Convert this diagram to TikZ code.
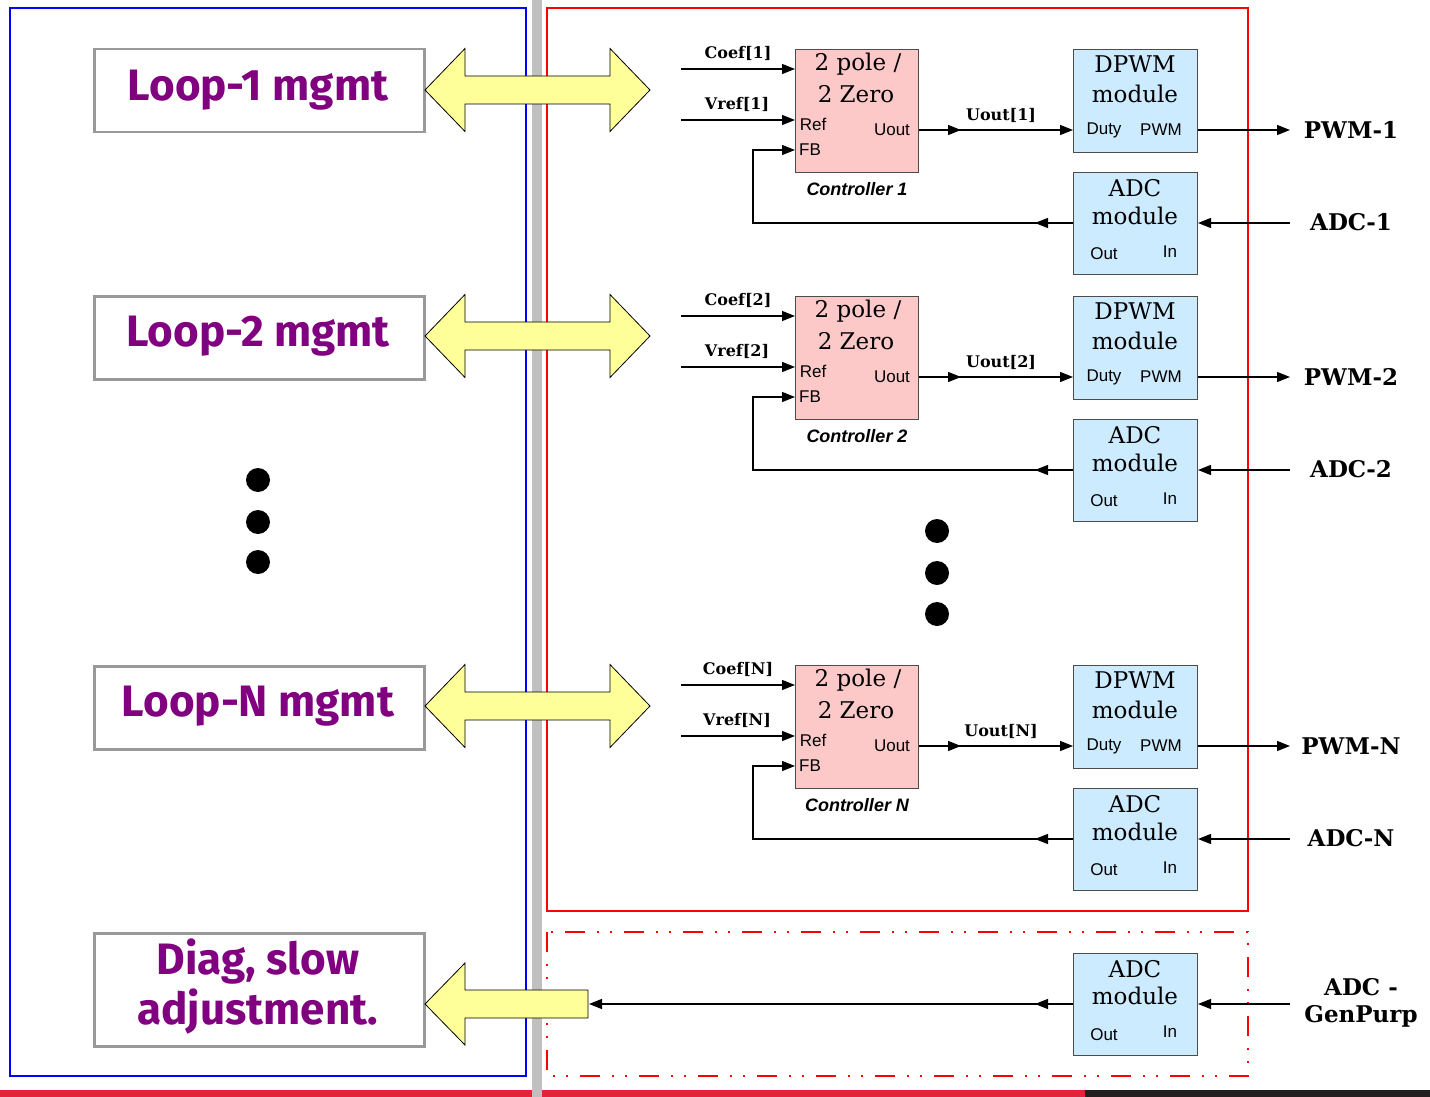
\documentclass[tikz,border=0pt]{standalone}
\usepackage{fontspec}
\usetikzlibrary{arrows.meta,decorations.markings}
\newfontfamily\handfont{Fira Sans}
\newfontfamily\portfont{Liberation Sans}
\newfontfamily\blockserif{DejaVu Serif}
\definecolor{loopviolet}{HTML}{800080}
\definecolor{arrowyellow}{HTML}{FFFF99}
\definecolor{ctrlpink}{HTML}{FCC8C8}
\definecolor{modblue}{HTML}{CDEBFF}
\definecolor{barred}{HTML}{E8213A}
\definecolor{bardark}{HTML}{231F20}
\definecolor{divgray}{HTML}{C0C0C0}
\definecolor{boxgray}{HTML}{999999}

\tikzset{
  tip/.tip={Triangle[length=13pt,width=10pt]},
  sig/.style={draw=black, line width=1.3pt, -tip},
  midarrow/.style={postaction={decorate},
    decoration={markings, mark=at position #1 with {\arrow{tip}}}},
  loopbox/.style={draw=boxgray, line width=2.5pt, fill=white, anchor=north west,
    minimum width=330pt, inner sep=0pt},
  looptext/.style={text=loopviolet, font=\handfont\bfseries\fontsize{44}{50}\selectfont, align=center, inner sep=0pt},
  ctrlbox/.style={draw=black!70, line width=1pt, fill=ctrlpink, anchor=north west,
    minimum width=123pt, minimum height=123pt, inner sep=0pt},
  modbox/.style={draw=black!70, line width=1pt, fill=modblue, anchor=north west,
    minimum width=124pt, minimum height=102pt, inner sep=0pt},
  bigserif/.style={font=\blockserif\fontsize{23}{26}\selectfont, inner sep=0pt},
  port/.style={font=\portfont\fontsize{17}{19}\selectfont, inner sep=0pt},
  ctrlname/.style={font=\portfont\bfseries\itshape\fontsize{18}{20}\selectfont, inner sep=0pt},
  siglabel/.style={font=\blockserif\bfseries\fontsize{16}{19}\selectfont, inner sep=0pt},
  iolabel/.style={font=\blockserif\bfseries\fontsize{23}{27}\selectfont, inner sep=0pt, align=center},
  bigarrow/.style={draw=black, line width=0.8pt, fill=arrowyellow, line join=miter},
  dot/.style={circle, fill=black, minimum size=24pt, inner sep=0pt}
}

\begin{document}
\begin{tikzpicture}[x=1pt,y=-1pt]
\useasboundingbox (0,0) rectangle (1430,1097);

% frames and dividers
\fill[barred] (0,1090) rectangle (1085,1097);
\fill[bardark] (1085,1090) rectangle (1430,1097);
\fill[divgray] (532,0) rectangle (542,1097);
\draw[blue, line width=2.5pt] (10,8) rectangle (526,1076);
\draw[red, line width=2.5pt] (547,8) rectangle (1248,911);
\draw[red, line width=2.5pt,
  dash pattern=on 20pt off 12pt on 2pt off 11pt on 2pt off 12pt] (547,932) rectangle (1248,1076);

% management boxes
\node[loopbox, minimum height=83pt] (loop1) at (93,48) {};
\node[looptext] (loop1t) at (258,90) {Loop-1 mgmt};
\node[loopbox, minimum height=83pt] (loop2) at (93,295) {};
\node[looptext] (loop2t) at (258,336) {Loop-2 mgmt};
\node[loopbox, minimum height=83pt] (loopN) at (93,665) {};
\node[looptext] (loopNt) at (258,706) {Loop-N mgmt};
\node[loopbox, minimum height=113pt] (diag) at (93,932) {};
\node[looptext] (diagt1) at (258,962) {Diag, slow};
\node[looptext] (diagt2) at (258,1012) {adjustment.};

\node[dot] (ld1) at (258,480) {};
\node[dot] (ld2) at (258,522) {};
\node[dot] (ld3) at (258,562) {};
\node[dot] (rd1) at (937,531) {};
\node[dot] (rd2) at (937,573) {};
\node[dot] (rd3) at (937,614) {};

% control loops
\foreach \t/\k/\n in {49/1/a, 296/2/b, 665/N/c}{
  \node[ctrlbox] (ctrl\n) at (795,\t) {};
  \node[bigserif] (pole\n) at (858,{\t+15}) {2 pole /};
  \node[bigserif] (zero\n) at (856,{\t+45}) {2 Zero};
  \node[port] (ref\n) at (813,{\t+75}) {Ref};
  \node[port] (fb\n) at (810,{\t+101}) {FB};
  \node[port] (uout\n) at (892,{\t+81}) {Uout};
  \node[ctrlname] (cname\n) at (857,{\t+140}) {Controller \k};

  \node[modbox, minimum height=103pt] (dpwm\n) at (1073,\t) {};
  \node[bigserif] (dpwmt\n) at (1135,{\t+15}) {DPWM};
  \node[bigserif] (dpwmm\n) at (1135,{\t+45}) {module};
  \node[port] (duty\n) at (1104,{\t+81}) {Duty};
  \node[port] (pwm\n) at (1161,{\t+81}) {PWM};

  \node[modbox] (adc\n) at (1073,{\t+123}) {};
  \node[bigserif] (adct\n) at (1135,{\t+139}) {ADC};
  \node[bigserif] (adcm\n) at (1135,{\t+167}) {module};
  \node[port] (out\n) at (1104,{\t+205}) {Out};
  \node[port] (in\n) at (1170,{\t+203}) {In};

  \node[siglabel] (coefl\n) at (738,{\t+4}) {Coef[\k]};
  \node[siglabel] (vrefl\n) at (737,{\t+55}) {Vref[\k]};
  \node[siglabel] (uoutl\n) at (1001,{\t+66}) {Uout[\k]};
  \node[iolabel] (pwmo\n) at (1351,{\t+81}) {PWM-\k};
  \node[iolabel] (adci\n) at (1351,{\t+173}) {ADC-\k};

  \coordinate (coefin\n) at (681,{\t+20});
  \coordinate (vrefin\n) at (681,{\t+71});
  \coordinate (fbturn\n) at (753,{\t+101});
  \coordinate (pwmend\n) at (1290,{\t+81});
  \coordinate (adcsrc\n) at (1290,{\t+174});

  \draw[sig] (coefin\n) -- (coefin\n -| ctrl\n.west);
  \draw[sig] (vrefin\n) -- (vrefin\n -| ctrl\n.west);
  \draw[sig, midarrow=42pt] (ctrl\n.east |- uout\n) -- (duty\n -| dpwm\n.west);
  \draw[sig] (dpwm\n.east |- pwm\n) -- (pwmend\n);
  \draw[sig] (adcsrc\n) -- (adcsrc\n -| adc\n.east);
  \draw[sig, midarrow=38pt] (adc\n.west |- adcsrc\n) -| (fbturn\n) -- (fbturn\n -| ctrl\n.west);
}

% general purpose ADC
\node[modbox] (adcg) at (1073,953) {};
\node[bigserif] (adcgt) at (1135,969) {ADC};
\node[bigserif] (adcgm) at (1135,996) {module};
\node[port] (outg) at (1104,1035) {Out};
\node[port] (ing) at (1170,1032) {In};
\node[iolabel] (adcgl) at (1361,1003) {ADC -\\GenPurp};
\coordinate (adcgsrc) at (1290,1004);

% wide interface arrows
\foreach \c in {90,336,706}{
  \draw[bigarrow] (425,\c) -- (465,{\c-41.5}) -- (465,{\c-14}) -- (610,{\c-14})
    -- (610,{\c-41.5}) -- (650,\c) -- (610,{\c+41.5}) -- (610,{\c+14})
    -- (465,{\c+14}) -- (465,{\c+41.5}) -- cycle;
}
\draw[bigarrow] (425,1004) -- (465,963) -- (465,990) -- (588,990) -- (588,1018)
  -- (465,1018) -- (465,1045) -- cycle;
\coordinate (diagin) at (589,1004);

\draw[sig] (adcgsrc) -- (adcgsrc -| adcg.east);
\draw[sig, midarrow=38pt] (adcg.west |- adcgsrc) -- (diagin);

\end{tikzpicture}
\end{document}
